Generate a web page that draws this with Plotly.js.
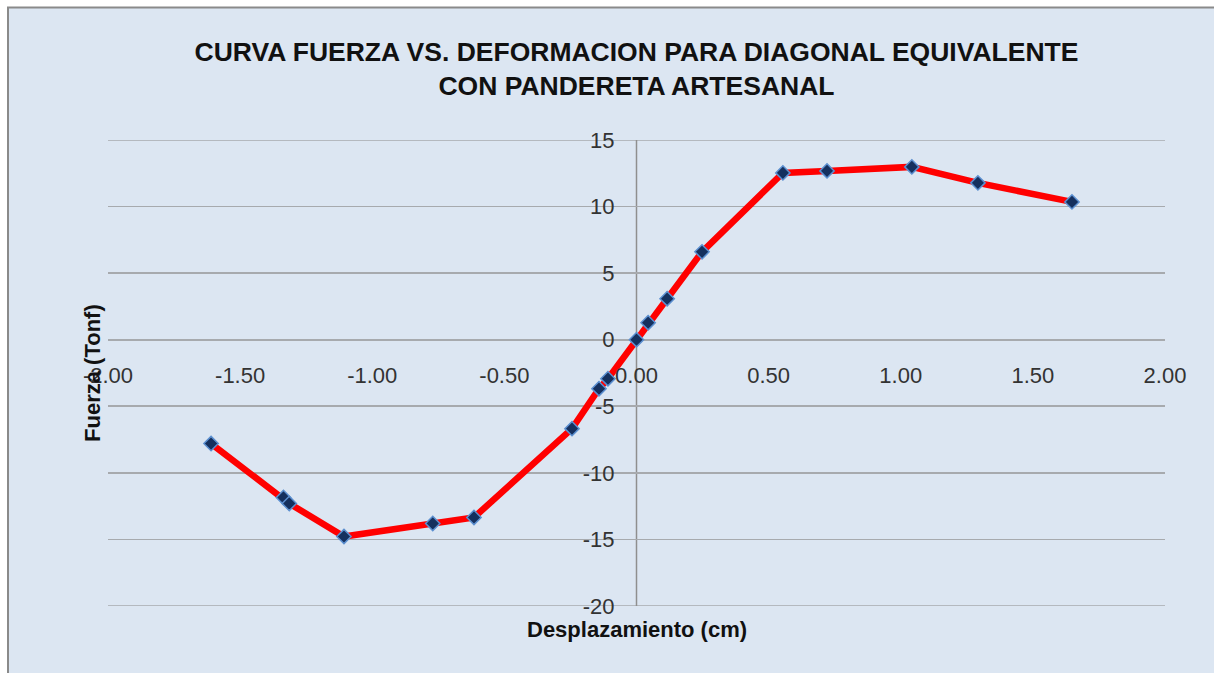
<!DOCTYPE html>
<html>
<head>
<meta charset="utf-8">
<script src="https://cdn.plot.ly/plotly-3.0.1.min.js"></script>
<style>html,body{margin:0;padding:0;background:#fff;}#chart{width:1214px;height:673px;}</style>
</head>
<body>
<div id="chart"></div>
<script>
// Desplazamiento (cm)
var desplazamiento = [-1.610, -1.336, -1.314, -1.107, -0.771, -0.615, -0.244, -0.142, -0.108, 0.000, 0.044, 0.116, 0.248, 0.554, 0.721, 1.042, 1.292, 1.648];
// Fuerza (Tonf)
var fuerza = [-7.80, -11.85, -12.30, -14.78, -13.80, -13.35, -6.68, -3.68, -2.93, 0.00, 1.28, 3.08, 6.60, 12.53, 12.68, 12.98, 11.78, 10.35];

var xTicks = [-2, -1.5, -1, -0.5, 0, 0.5, 1, 1.5, 2];
var xTickText = ['-2.00', '-1.50', '-1.00', '-0.50', '0.00', '0.50', '1.00', '1.50', '2.00'];
var yTicks = [-20, -15, -10, -5, 0, 5, 10, 15];
var yTickText = ['-20', '-15', '-10', '-5', '0', '5', '10', '15'];

var titleText = 'CURVA FUERZA VS. DEFORMACION PARA DIAGONAL EQUIVALENTE<br>CON PANDERETA ARTESANAL';
var xTitle = 'Desplazamiento (cm)';
var yTitle = 'Fuerza (Tonf)';

var xRange = [-2, 2];
var yRange = [-20, 15];

var trace = {
  x: desplazamiento,
  y: fuerza,
  type: 'scatter',
  mode: 'lines+markers',
  line: {color: '#ff0000', width: 6.5},
  marker: {symbol: 'diamond', size: 11, color: '#15305e', line: {color: '#5b8fd0', width: 1.5}},
  hoverinfo: 'x+y'
};

var tickFam = '"Liberation Sans", Arial, sans-serif';
var gridColor = '#a7aaae';

var shapes = [
  {type: 'rect', xref: 'paper', yref: 'paper', x0: -0.0946, x1: 1.2, y0: -0.3, y1: 1.2846,
   fillcolor: '#dce6f2', line: {color: '#8a8a8a', width: 2}, layer: 'below'}
];
// edge gridlines (top and bottom of range)
[yRange[0], yRange[1]].forEach(function (v) {
  shapes.push({type: 'line', xref: 'paper', yref: 'y', x0: 0, x1: 1, y0: v, y1: v,
               line: {color: gridColor, width: 1.6}, layer: 'below'});
});
shapes.push({type: 'line', xref: 'x', yref: 'paper', x0: 0, x1: 0, y0: 0, y1: 1,
             line: {color: '#8f8f8f', width: 1.5}, layer: 'below'});

var layout = {
  width: 1214,
  height: 673,
  margin: {l: 108, r: 49, t: 140, b: 66.5, pad: 0},
  paper_bgcolor: '#ffffff',
  plot_bgcolor: 'rgba(0,0,0,0)',
  showlegend: false,
  title: {
    text: '<b>' + titleText + '</b>',
    font: {family: tickFam, size: 26.5, color: '#111111'},
    x: 0.5, xanchor: 'center', xref: 'paper',
    y: 0.91, yanchor: 'middle'
  },
  xaxis: {
    range: xRange,
    tickvals: xTicks,
    ticktext: xTickText,
    showgrid: false,
    zeroline: false,
    showline: false,
    ticks: '',
    anchor: 'free',
    position: (0 - yRange[0]) / (yRange[1] - yRange[0]),
    ticklabelstandoff: 20,
    tickfont: {family: tickFam, size: 22, color: '#333333'},
    fixedrange: true
  },
  yaxis: {
    range: yRange,
    tickvals: yTicks,
    ticktext: yTickText,
    showgrid: true,
    gridcolor: gridColor,
    gridwidth: 1.6,
    zeroline: false,
    showline: false,
    ticks: '',
    anchor: 'free',
    position: (0 - xRange[0]) / (xRange[1] - xRange[0]),
    ticklabelstandoff: 22,
    tickfont: {family: tickFam, size: 22, color: '#333333'},
    fixedrange: true
  },
  shapes: shapes,
  annotations: [
    {text: '<b>' + xTitle + '</b>', xref: 'paper', yref: 'paper', x: 0.5, y: -0.05,
     xanchor: 'center', yanchor: 'middle', showarrow: false,
     font: {family: tickFam, size: 22, color: '#111111'}},
    {text: '<b>' + yTitle + '</b>', xref: 'paper', yref: 'paper', x: -0.0152, y: 0.5,
     xanchor: 'center', yanchor: 'middle', textangle: -90, showarrow: false,
     font: {family: tickFam, size: 22, color: '#111111'}}
  ]
};

Plotly.newPlot('chart', [trace], layout, {displayModeBar: false, staticPlot: true});
</script>
</body>
</html>
